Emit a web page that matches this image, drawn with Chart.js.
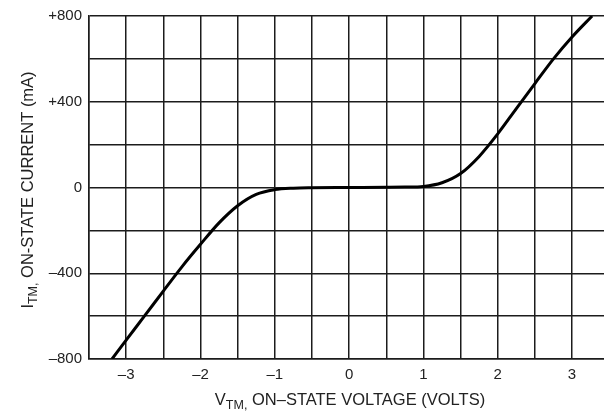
<!DOCTYPE html>
<html>
<head>
<meta charset="utf-8">
<script src="https://cdn.jsdelivr.net/npm/chart.js@4/dist/chart.umd.min.js"></script>
<style>
  html, body { margin: 0; padding: 0; background: #fff; }
  #wrap { width: 604px; height: 412px; position: relative; }
</style>
</head>
<body>
<div id="wrap"><canvas id="chart"></canvas></div>
<script>
// on-state characteristic
const voltage = [-3.19, -3.0, -2.75, -2.5, -2.25, -2.0, -1.75, -1.5, -1.25, -1.0, -0.75, -0.5, 0, 0.5, 0.75, 1.0, 1.25, 1.5, 1.75, 2.0, 2.25, 2.5, 2.75, 3.0, 3.27];
const current = [-800, -712, -598, -483, -370, -265, -165, -85, -32, -10, -3, -1, 0, 1, 2, 5, 22, 65, 145, 250, 368, 485, 600, 702, 800];

const xTickValues = [-3, -2, -1, 0, 1, 2, 3];
const xTickText = ['–3', '–2', '–1', '0', '1', '2', '3'];
const yTickValues = [800, 400, 0, -400, -800];
const yTickText = ['+800', '+400', '0', '–400', '–800'];

const FONT = '"Liberation Sans", Arial, sans-serif';
const GRID = '#1c1c1c';

const points = voltage.map((v, i) => ({ x: v, y: current[i] }));

// axis titles with subscripts, drawn by hand
const titlesPlugin = {
    id: 'titles',
    afterDraw(chart) {
        const ctx = chart.ctx;
        ctx.save();
        ctx.fillStyle = '#222';
        ctx.textBaseline = 'alphabetic';
        ctx.textAlign = 'left';

        function drawParts(parts) {
            let w = 0;
            parts.forEach(p => { ctx.font = p.size + 'px ' + FONT; w += ctx.measureText(p.text).width; });
            let x = -w / 2;
            parts.forEach(p => {
                ctx.font = p.size + 'px ' + FONT;
                ctx.fillText(p.text, x, p.dy);
                x += ctx.measureText(p.text).width;
            });
        }

        // x title
        ctx.save();
        ctx.translate(350, 405);
        drawParts([
            { text: 'V', size: 16.5, dy: 0 },
            { text: 'TM,', size: 12.5, dy: 4 },
            { text: ' ON–STATE VOLTAGE (VOLTS)', size: 16.5, dy: 0 }
        ]);
        ctx.restore();

        // y title
        ctx.save();
        ctx.translate(33, 190);
        ctx.rotate(-Math.PI / 2);
        drawParts([
            { text: 'I', size: 16.5, dy: 0 },
            { text: 'TM,', size: 12.5, dy: 4 },
            { text: ' ON-STATE CURRENT (mA)', size: 16.5, dy: 0 }
        ]);
        ctx.restore();

        ctx.restore();
    }
};

new Chart(document.getElementById('chart'), {
    type: 'scatter',
    data: {
        datasets: [{
            data: points,
            showLine: true,
            borderColor: '#000',
            borderWidth: 3,
            pointRadius: 0,
            cubicInterpolationMode: 'monotone',
            fill: false
        }]
    },
    options: {
        responsive: true,
        maintainAspectRatio: false,
        animation: false,
        events: [],
        layout: { padding: { top: 16, right: 0, left: 0, bottom: 0 } },
        plugins: {
            legend: { display: false },
            tooltip: { enabled: false }
        },
        scales: {
            x: {
                type: 'linear',
                min: -3.5,
                max: 3.43,
                afterBuildTicks(scale) {
                    const t = [];
                    for (let v = -3.5; v <= 3.0001; v += 0.5) t.push({ value: Math.round(v * 10) / 10 });
                    scale.ticks = t;
                },
                afterFit(scale) { scale.height = 53; },
                grid: { color: GRID, lineWidth: 1.5, drawTicks: false },
                border: { display: true, color: GRID, width: 1.5 },
                ticks: {
                    autoSkip: false,
                    maxRotation: 0,
                    padding: 7,
                    color: '#222',
                    font: { family: FONT, size: 15 },
                    callback(value) {
                        const i = xTickValues.indexOf(value);
                        return i >= 0 ? xTickText[i] : '';
                    }
                }
            },
            y: {
                min: -800,
                max: 800,
                afterBuildTicks(scale) {
                    const t = [];
                    for (let v = -800; v <= 800; v += 200) t.push({ value: v });
                    scale.ticks = t;
                },
                afterFit(scale) { scale.width = 89; },
                grid: { color: GRID, lineWidth: 1.5, drawTicks: false },
                border: { display: true, color: GRID, width: 1.5 },
                ticks: {
                    autoSkip: false,
                    padding: 7,
                    color: '#222',
                    font: { family: FONT, size: 15 },
                    callback(value) {
                        const i = yTickValues.indexOf(value);
                        return i >= 0 ? yTickText[i] : '';
                    }
                }
            }
        }
    },
    plugins: [titlesPlugin]
});
</script>
</body>
</html>
